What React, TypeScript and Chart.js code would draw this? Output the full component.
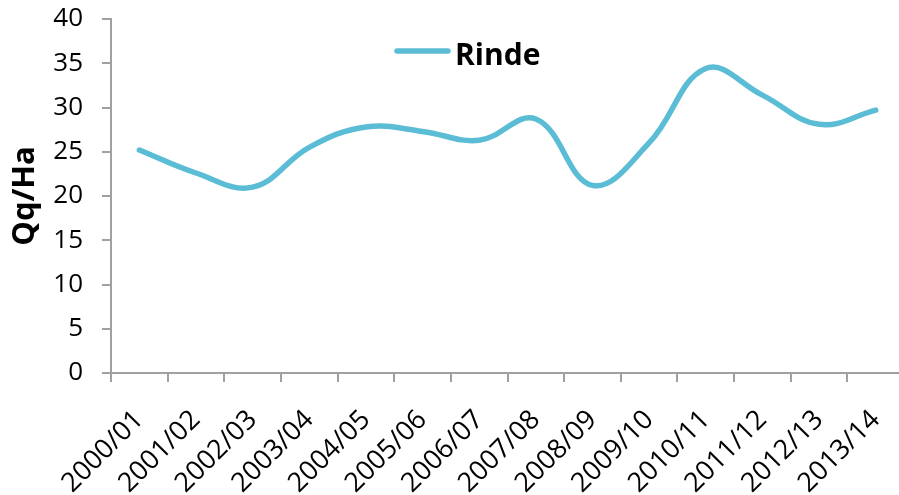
import React, { useEffect, useRef } from "react";
import { Chart, registerables } from "chart.js";

Chart.register(...registerables);

const categories = [
  "2000/01", "2001/02", "2002/03", "2003/04", "2004/05", "2005/06", "2006/07",
  "2007/08", "2008/09", "2009/10", "2010/11", "2011/12", "2012/13", "2013/14",
];
const rinde = [25.2, 22.6, 21.0, 25.5, 27.8, 27.3, 26.3, 28.7, 21.2, 26.0, 34.4, 31.4, 28.1, 29.7];
const seriesName = "Rinde";
const yTitle = "Qq/Ha";

const LINE_COLOR = "#5BBCD5";
const AXIS_COLOR = "#A0A0A0";
const FONT = "'Open Sans', 'DejaVu Sans', sans-serif";

const legendPlugin = {
  id: "customLegend",
  afterDraw(chart: any) {
    const ctx = chart.ctx;
    const ds = chart.data.datasets[0];
    ctx.save();
    ctx.strokeStyle = ds.borderColor;
    ctx.lineWidth = 5.5;
    ctx.lineCap = "round";
    ctx.beginPath();
    ctx.moveTo(397, 51);
    ctx.lineTo(448, 51);
    ctx.stroke();
    ctx.fillStyle = "#000";
    ctx.font = `bold 30px ${FONT}`;
    ctx.textBaseline = "alphabetic";
    ctx.textAlign = "left";
    ctx.fillText(ds.label, 455, 65);
    ctx.restore();
  },
};

export default function App() {
  const ref = useRef<HTMLCanvasElement | null>(null);
  useEffect(() => {
    const canvas = ref.current!;
    const chart = new Chart(canvas, {
      type: "line",
      data: {
        labels: categories,
        datasets: [
          {
            label: seriesName,
            data: rinde,
            borderColor: LINE_COLOR,
            backgroundColor: LINE_COLOR,
            borderWidth: 5.5,
            pointRadius: 0,
            pointHoverRadius: 0,
            tension: 0.4,
            borderCapStyle: "round",
            borderJoinStyle: "round",
            fill: false,
          },
        ],
      },
      options: {
        responsive: false,
        animation: false,
        layout: { padding: { top: 19, right: 0, left: 0, bottom: 0 } },
        plugins: {
          legend: { display: false },
          tooltip: { enabled: false },
        },
        scales: {
          x: {
            offset: true,
            grid: {
              display: true,
              offset: true,
              drawOnChartArea: false,
              drawTicks: true,
              tickLength: 9,
              color: AXIS_COLOR,
              lineWidth: 2,
            },
            border: { display: true, color: AXIS_COLOR, width: 2 },
            ticks: {
              autoSkip: false,
              maxRotation: 45,
              minRotation: 45,
              color: "#000",
              padding: 22,
              font: { family: FONT, size: 27 },
            },
            afterFit(scale: any) {
              scale.height = 122;
              scale.paddingLeft = 0;
              scale.paddingRight = 0;
            },
          },
          y: {
            min: 0,
            max: 40,
            grid: {
              display: true,
              drawOnChartArea: false,
              drawTicks: true,
              tickLength: 9,
              color: AXIS_COLOR,
              lineWidth: 2,
            },
            border: { display: true, color: AXIS_COLOR, width: 2 },
            ticks: {
              stepSize: 5,
              color: "#000",
              padding: 19,
              font: { family: FONT, size: 26 },
            },
            title: {
              display: true,
              text: yTitle,
              color: "#000",
              padding: { top: 7, bottom: 0 },
              font: { family: FONT, size: 31, weight: "bold" },
            },
            afterFit(scale: any) {
              scale.width = 111;
              scale.paddingTop = 0;
              scale.paddingBottom = 0;
            },
          },
        },
      },
      plugins: [legendPlugin],
    });
    return () => chart.destroy();
  }, []);

  return (
    <div style={{ position: "fixed", left: 0, top: 0, width: 899, height: 495, overflow: "hidden", background: "#fff" }}>
      <canvas ref={ref} width={904} height={495} style={{ width: 904, height: 495, display: "block" }} />
    </div>
  );
}
